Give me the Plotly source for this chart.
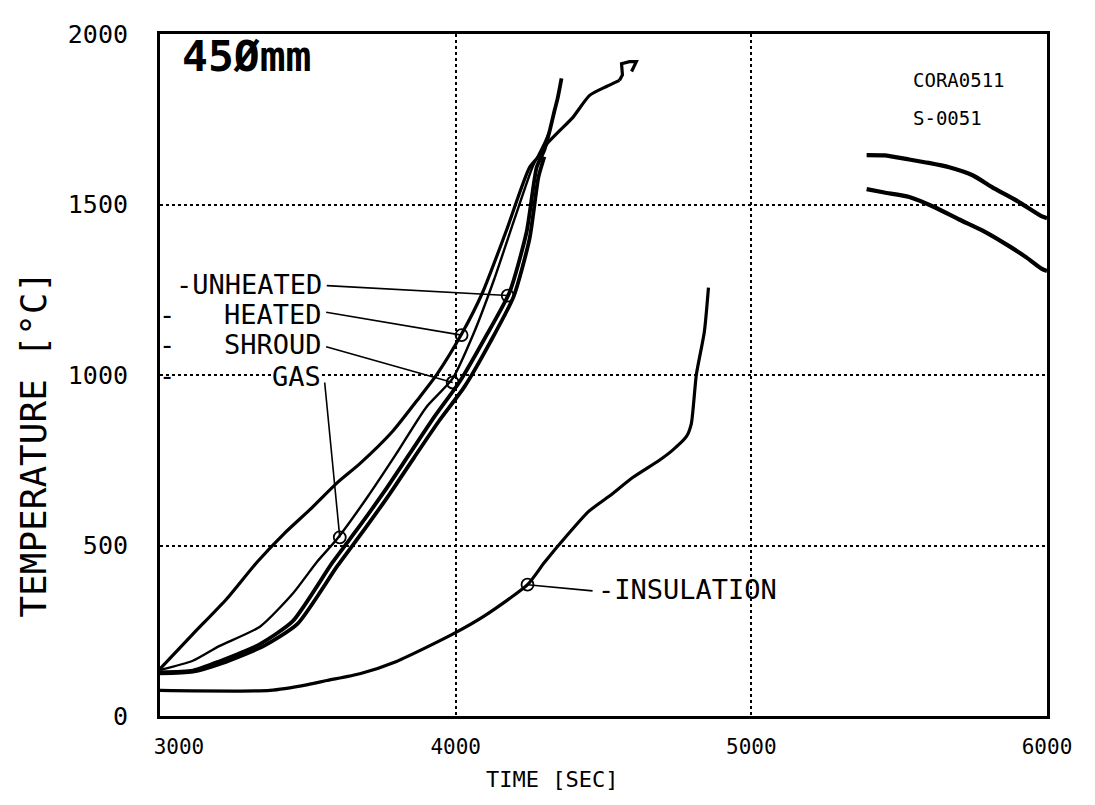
import plotly.graph_objects as go

# ---------------- data ----------------
curve_a_x = [3000, 3111, 3226, 3328, 3420, 3507, 3598, 3676, 3787, 3878, 3936, 4020, 4091, 4170, 4250,
             4290, 4307, 4350, 4395, 4453, 4510, 4554]
curve_a_y = [138, 240, 344, 451, 535, 605, 683, 740, 835, 935, 1001, 1120, 1242, 1420, 1609,
             1650, 1676, 1715, 1754, 1820, 1846, 1864]
hook_x = [4554, 4564, 4561, 4588, 4611, 4595]
hook_y = [1864, 1880, 1913, 1919, 1919, 1890]

curve_b_x = [3000, 3111, 3200, 3338, 3450, 3530, 3598, 3700, 3800, 3900, 3990, 4060, 4130, 4200, 4260, 4300, 4318]
curve_b_y = [135, 162, 205, 262, 360, 451, 518, 640, 770, 905, 990, 1120, 1280, 1460, 1610, 1680, 1716]

curve_c1_x = [3000, 3111, 3200, 3338, 3449, 3584, 3676, 3760, 3845, 3930, 4014, 4100, 4182, 4240, 4274,
              4300, 4318, 4334, 4345, 4358]
curve_c1_y = [128, 133, 160, 211, 278, 451, 558, 660, 770, 880, 981, 1110, 1242, 1420, 1609,
              1660, 1716, 1774, 1812, 1870]

curve_c2_x = [3000, 3111, 3210, 3350, 3465, 3600, 3692, 3776, 3861, 3946, 4030, 4116, 4196, 4250, 4280, 4300]
curve_c2_y = [125, 130, 155, 205, 270, 440, 548, 650, 760, 868, 966, 1095, 1230, 1400, 1580, 1640]

insul_x = [3000, 3372, 3500, 3564, 3676, 3800, 3990, 4100, 4243, 4300, 4385, 4450, 4520, 4600, 4689,
           4733, 4780, 4797, 4814, 4841, 4855]
insul_y = [75, 75, 92, 104, 124, 160, 240, 295, 385, 450, 538, 600, 645, 700, 750,
           779, 819, 857, 1001, 1126, 1256]

right_up_x = [5390, 5450, 5534, 5600, 5669, 5750, 5814, 5900, 5983, 6000]
right_up_y = [1645, 1644, 1632, 1622, 1609, 1585, 1551, 1510, 1465, 1460]
right_lo_x = [5390, 5450, 5534, 5620, 5703, 5790, 5872, 5930, 5983, 6000]
right_lo_y = [1545, 1535, 1522, 1492, 1456, 1420, 1378, 1345, 1311, 1305]

# labels and their marker points
label_names = ["-UNHEATED", "HEATED", "SHROUD", "GAS", "-INSULATION"]
label_x = [3551, 3551, 3551, 3548, 4477]
label_y = [1265, 1178, 1088, 995, 370]
leader_start_x = [3564, 3562, 3562, 3557, 4463]
leader_start_y = [1262, 1184, 1083, 978, 367]
marker_x = [4176, 4020, 3990, 3608, 4243]
marker_y = [1233, 1117, 978, 524, 385]
dash_x = [3022, 3022, 3022]
dash_y = [1178, 1088, 1000]

x_ticks = [3000, 4000, 5000, 6000]
x_ticktext = ["&nbsp;&nbsp;&nbsp;3000", "4000", "5000", "6000"]
y_ticks = [0, 500, 1000, 1500, 2000]

MONO = "DejaVu Sans Mono"

fig = go.Figure()

def line(x, y, w, shape="linear"):
    fig.add_trace(go.Scatter(x=x, y=y, mode="lines",
                             line=dict(color="black", width=w, shape=shape, smoothing=0.6),
                             showlegend=False, hoverinfo="skip"))

line(curve_a_x, curve_a_y, 3.2, "spline")
line(hook_x, hook_y, 3.2)
line(curve_b_x, curve_b_y, 2.4, "spline")
line(curve_c1_x, curve_c1_y, 3.8, "spline")
line(curve_c2_x, curve_c2_y, 3.8, "spline")
line(insul_x, insul_y, 3.2, "spline")
line(right_up_x, right_up_y, 4.2, "spline")
line(right_lo_x, right_lo_y, 4.2, "spline")

# leader lines
for i in range(len(marker_x)):
    line([leader_start_x[i], marker_x[i]], [leader_start_y[i], marker_y[i]], 1.6)

fig.add_trace(go.Scatter(x=marker_x, y=marker_y, mode="markers",
                         marker=dict(symbol="circle-open", size=12, color="black", line=dict(width=1.8)),
                         showlegend=False, hoverinfo="skip"))

annotations = []
for i, name in enumerate(label_names):
    xa = "left" if name == "-INSULATION" else "right"
    annotations.append(dict(x=label_x[i], y=label_y[i], text=name, showarrow=False, xanchor=xa,
                            yanchor="middle", font=dict(family=MONO, size=27, color="black"),
                            bgcolor="white" if name == "GAS" else None, borderpad=0))
for i in range(len(dash_x)):
    annotations.append(dict(x=dash_x[i], y=dash_y[i], text="-", showarrow=False,
                            font=dict(family=MONO, size=27, color="black")))

annotations += [
    dict(x=0.022, y=1936, xref="paper", text="<b>45Ømm</b>", showarrow=False, xanchor="left",
         yanchor="middle", font=dict(family=MONO, size=43, color="black")),
    dict(x=0.847, y=0.932, xref="paper", yref="paper", text="CORA0511",
         showarrow=False, xanchor="left", yanchor="middle",
         font=dict(family=MONO, size=19, color="black")),
    dict(x=0.847, y=0.877, xref="paper", yref="paper", text="S-0051", showarrow=False,
         xanchor="left", yanchor="middle", font=dict(family=MONO, size=19, color="black")),
    dict(x=0.442, y=-0.0926, xref="paper", yref="paper", text="TIME [SEC]", showarrow=False,
         xanchor="center", yanchor="middle", font=dict(family=MONO, size=22, color="black")),
    dict(x=-0.142, y=0.398, xref="paper", yref="paper", text="TEMPERATURE [°C]", showarrow=False,
         textangle=-90, xanchor="center", yanchor="middle",
         font=dict(family=MONO, size=36, color="black")),
]

# page body has an 8px margin, so the figure is sized/offset to compensate
fig.update_layout(
    width=1087, height=797,
    margin=dict(l=152, r=48, t=17, b=89),
    paper_bgcolor="white", plot_bgcolor="white",
    annotations=annotations,
    showlegend=False,
)
fig.update_xaxes(range=[3000, 6000], tickvals=x_ticks, ticktext=x_ticktext,
                 showgrid=True, gridcolor="black", griddash="dot", gridwidth=1.5,
                 showline=True, mirror=True, linecolor="black", linewidth=3, zeroline=False,
                 ticks="", ticklabelstandoff=10,
                 tickfont=dict(family=MONO, size=21, color="black"))
fig.update_yaxes(range=[0, 2000], tickvals=y_ticks, ticktext=[str(v) for v in y_ticks],
                 showgrid=True, gridcolor="black", griddash="dot", gridwidth=1.5,
                 showline=True, mirror=True, linecolor="black", linewidth=3, zeroline=False,
                 ticks="", ticklabelstandoff=24,
                 tickfont=dict(family=MONO, size=25, color="black"))

fig.write_html("out.html")
